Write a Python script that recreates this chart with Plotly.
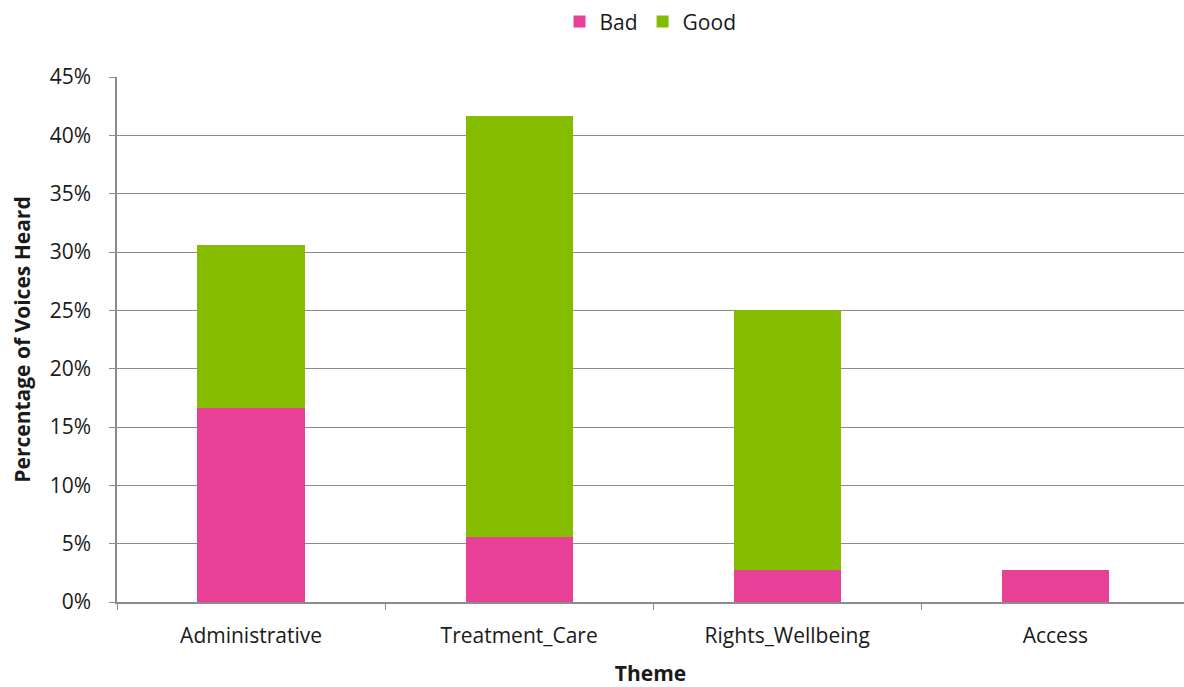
import plotly.graph_objects as go

themes = ["Administrative", "Treatment_Care", "Rights_Wellbeing", "Access"]
bad = [16.67, 5.56, 2.78, 2.78]
good = [13.89, 36.11, 22.22, 0.0]
y_ticks = [0, 5, 10, 15, 20, 25, 30, 35, 40, 45]
y_tick_labels = [f"{v}%" for v in y_ticks]

FONT = "Open Sans, Lato, sans-serif"
GRID = "#8c8c8c"
FS = 21

fig = go.Figure()
fig.add_trace(go.Bar(name="Bad", x=themes, y=bad, marker=dict(color="#E84097", line=dict(width=0))))
fig.add_trace(go.Bar(name="Good", x=themes, y=good, marker=dict(color="#86BC00", line=dict(width=0))))

fig.update_layout(
    barmode="stack",
    bargap=0.6,
    width=1184,
    height=687,
    margin=dict(l=117, r=0, t=77, b=85, autoexpand=False),
    paper_bgcolor="white",
    plot_bgcolor="white",
    font=dict(family=FONT, size=FS, color="#1a1a1a"),
    legend=dict(
        orientation="h",
        x=0.5, xanchor="center",
        y=1.105, yanchor="middle",
        font=dict(size=FS),
        itemwidth=30,
        traceorder="normal",
    ),
    xaxis=dict(
        range=[-0.5, 3.48],
        showline=True, linecolor=GRID, linewidth=1.5,
        ticks="outside", ticklen=6, tickcolor=GRID, tickson="boundaries",
        showgrid=False,
        ticklabelstandoff=14,
        title=dict(text="<b>Theme</b>", font=dict(size=FS), standoff=22),
    ),
    yaxis=dict(
        range=[0, 45],
        tickvals=y_ticks, ticktext=y_tick_labels,
        showline=True, linecolor=GRID, linewidth=1.5,
        ticks="outside", ticklen=6, tickcolor=GRID,
        showgrid=True, gridcolor=GRID, gridwidth=1,
        zeroline=False,
        ticklabelstandoff=14,
        title=dict(text="<b>Percentage of Voices Heard</b>", font=dict(size=FS), standoff=13),
    ),
)

fig.write_html("out.html")
